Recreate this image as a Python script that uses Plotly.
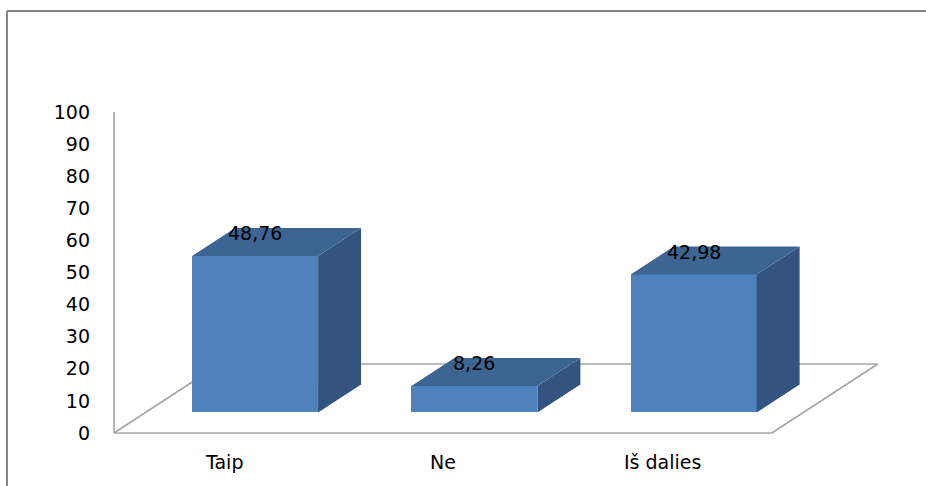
import plotly.graph_objects as go

# ---- data ----
categories = ["Taip", "Ne", "Iš dalies"]
values = [48.76, 8.26, 42.98]
value_labels = ["48,76", "8,26", "42,98"]
y_ticks = [0, 10, 20, 30, 40, 50, 60, 70, 80, 90, 100]

# ---- 3D look parameters (in axis units) ----
floor_dx, floor_dy = 0.483, 21.5      # depth of the floor
bar_dx, bar_dy = 0.196, 8.7           # depth of each bar
bar_w = 0.5745
shift_x = (floor_dx - bar_dx) / 2
base_y = (floor_dy - bar_dy) / 2

FRONT = "#4F81BD"
TOP = "#3D6594"
SIDE = "#33547E"
GRID = "#A6A6A6"
FONT = "DejaVu Sans"
FS = 19

L, R, T, B = 92, 34, 106, 47
W, H = 926, 486
pw, ph = W - L - R, H - T - B

def px2paper_x(px):
    return (px - L) / pw

def px2paper_y(py):
    return (H - B - py) / ph

fig = go.Figure()

n = len(categories)
xs = [i + shift_x for i in range(n)]

# side and top faces
for i, v in enumerate(values):
    x0 = xs[i] - bar_w / 2
    x1 = xs[i] + bar_w / 2
    yb = base_y
    yt = base_y + v
    fig.add_trace(go.Scatter(
        x=[x1, x1, x1 + bar_dx, x1 + bar_dx, x1],
        y=[yb, yt, yt + bar_dy, yb + bar_dy, yb],
        mode="lines", fill="toself", fillcolor=SIDE, line=dict(width=0, color=SIDE),
        hoverinfo="skip", showlegend=False))
    fig.add_trace(go.Scatter(
        x=[x0, x1, x1 + bar_dx, x0 + bar_dx, x0],
        y=[yt, yt, yt + bar_dy, yt + bar_dy, yt],
        mode="lines", fill="toself", fillcolor=TOP, line=dict(width=0, color=TOP),
        hoverinfo="skip", showlegend=False))

# front faces
fig.add_trace(go.Bar(x=xs, y=values, base=[base_y] * n, width=[bar_w] * n,
                     marker=dict(color=FRONT, line=dict(width=0)),
                     hoverinfo="skip", showlegend=False))

# floor outline + vertical axis line (drawn below the traces)
fx = [-0.5, n - 0.5, n - 0.5 + floor_dx, -0.5 + floor_dx]
fy = [0, 0, floor_dy, floor_dy]
shapes = []
for k in range(4):
    shapes.append(dict(type="line", xref="x", yref="y", layer="below",
                       x0=fx[k], y0=fy[k], x1=fx[(k + 1) % 4], y1=fy[(k + 1) % 4],
                       line=dict(color=GRID, width=1.6)))
shapes.append(dict(type="line", xref="x", yref="y", layer="below",
                   x0=-0.5, y0=0, x1=-0.5, y1=max(y_ticks),
                   line=dict(color=GRID, width=1.6)))

border = "#858585"
shapes += [
    dict(type="line", xref="paper", yref="paper",
         x0=px2paper_x(7), x1=px2paper_x(7), y0=px2paper_y(11), y1=px2paper_y(490),
         line=dict(color=border, width=2)),
    dict(type="line", xref="paper", yref="paper",
         x0=px2paper_x(7), x1=px2paper_x(930), y0=px2paper_y(11), y1=px2paper_y(11),
         line=dict(color=border, width=2)),
]

annotations = []
for i, v in enumerate(values):
    annotations.append(dict(x=xs[i], y=v + 13.4, text=value_labels[i], showarrow=False,
                            xanchor="center", yanchor="middle",
                            font=dict(family=FONT, size=FS, color="#000000")))
for i, c in enumerate(categories):
    annotations.append(dict(x=i, xref="x", y=px2paper_y(462), yref="paper", text=c,
                            showarrow=False, xanchor="center", yanchor="middle",
                            font=dict(family=FONT, size=FS, color="#000000")))

fig.update_layout(
    width=W, height=H,
    margin=dict(l=L, r=R, t=T, b=B, pad=0),
    paper_bgcolor="white", plot_bgcolor="white",
    xaxis=dict(range=[-0.6003, 3.048], showgrid=False, zeroline=False, showline=False,
               showticklabels=False, ticks="", fixedrange=True),
    yaxis=dict(range=[-1.87, 101.87], showgrid=False, zeroline=False, showline=False,
               tickvals=y_ticks, ticktext=[str(t) for t in y_ticks], ticks="",
               ticklabelstandoff=1,
               tickfont=dict(family=FONT, size=FS, color="#000000"), fixedrange=True),
    annotations=annotations,
    shapes=shapes,
    showlegend=False,
    bargap=0,
)

fig.write_html("out.html")
